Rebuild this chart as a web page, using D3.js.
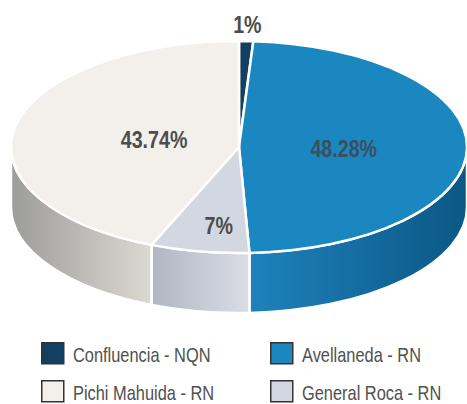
<!DOCTYPE html>
<html>
<head>
<meta charset="utf-8">
<script src="https://cdn.jsdelivr.net/npm/d3@7"></script>
<style>
  body { margin: 0; background: #fff; }
  svg { display: block; }
</style>
</head>
<body>
<div id="chart"></div>
<script>
// data, in pie order (clockwise from 12 o'clock)
const categories = ["Confluencia - NQN", "Avellaneda - RN", "General Roca - RN", "Pichi Mahuida - RN"];
const values = [1, 48.28, 7, 43.74];
const labels = ["1%", "48.28%", "7%", "43.74%"];
const legendOrder = [0, 1, 3, 2];

var width = 467, height = 404;
var cx = 239, cy = 147, rx = 228, ry = 106, depth = 60;
var narrow = 0.82; // no narrow font installed, squeeze Liberation Sans instead

var topColors = ["#123f62", "#1b87c1", "#d2d7e1", "#f3f0eb"];
// side wall gradient, left -> right
var sideColors = [["#0e3554", "#0b2f4b"], ["#1f82bc", "#0b5785"], ["#b1b6c3", "#dadde5"], ["#9c9c9a", "#dcd9d2"]];
var labelColors = ["#4d4d4d", "#3c4f5c", "#4d4d4d", "#4d4d4d"];

var svg = d3.select("#chart").append("svg")
    .attr("width", width)
    .attr("height", height);

var defs = svg.append("defs");

var pie = d3.pie().sort(null).value(d => d);
var arcs = pie(values);

function ellPt(a, dy) {
    return [cx + rx * Math.sin(a), cy - ry * Math.cos(a) + dy];
}

function sideRange(d) {
    var s = Math.max(d.startAngle, Math.PI / 2),
        e = Math.min(d.endAngle, 3 * Math.PI / 2);
    return e > s ? [s, e] : null;
}

function sidePath(r) {
    var s = r[0], e = r[1];
    var p0 = ellPt(s, 0), p1 = ellPt(e, 0), p2 = ellPt(e, depth), p3 = ellPt(s, depth);
    var large = (e - s) > Math.PI ? 1 : 0;
    return "M" + p0 + "A" + rx + "," + ry + " 0 " + large + " 1 " + p1 +
        "L" + p2 + "A" + rx + "," + ry + " 0 " + large + " 0 " + p3 + "Z";
}

// side walls
arcs.forEach(function (d, i) {
    var r = sideRange(d);
    if (!r) return;
    var xa = ellPt(r[0], 0)[0], xb = ellPt(r[1], 0)[0];
    var g = defs.append("linearGradient")
        .attr("id", "side" + i)
        .attr("gradientUnits", "userSpaceOnUse")
        .attr("x1", Math.min(xa, xb)).attr("x2", Math.max(xa, xb))
        .attr("y1", 0).attr("y2", 0);
    g.append("stop").attr("offset", 0).attr("stop-color", sideColors[i][0]);
    g.append("stop").attr("offset", 1).attr("stop-color", sideColors[i][1]);

    svg.append("path")
        .attr("d", sidePath(r))
        .attr("fill", "url(#side" + i + ")")
        .attr("stroke", "#fff")
        .attr("stroke-width", 2.5)
        .attr("stroke-linejoin", "round");
});

// top face: a circular pie squashed into an ellipse
var arc = d3.arc().innerRadius(0).outerRadius(rx);
var topFace = svg.append("g")
    .attr("transform", "translate(" + cx + "," + cy + ") scale(1," + (ry / rx) + ")");

topFace.selectAll("path")
    .data(arcs)
    .join("path")
    .attr("d", arc)
    .attr("fill", (d, i) => topColors[i])
    .attr("stroke", "#fff")
    .attr("stroke-width", 2.5)
    .attr("vector-effect", "non-scaling-stroke")
    .attr("stroke-linejoin", "round");

// labels: small slices outside, the rest inside (nudged right a bit like the original)
function labelPos(d) {
    var a = (d.startAngle + d.endAngle) / 2;
    var k = d.data < 2 ? 1.17 : d.data < 10 ? 0.74 : 0.42;
    var shift = d.data < 2 ? 0 : 9;
    return [cx + shift + k * rx * Math.sin(a), cy + 1 - k * ry * Math.cos(a)];
}

svg.selectAll("text.pct")
    .data(arcs)
    .join("text")
    .attr("class", "pct")
    .attr("transform", d => "translate(" + labelPos(d) + ") scale(" + narrow + ",1)")
    .attr("dy", "0.36em")
    .attr("text-anchor", "middle")
    .style("font-family", "'Liberation Sans', Arial, sans-serif")
    .style("font-weight", "bold")
    .style("font-size", "24px")
    .attr("fill", (d, i) => labelColors[i])
    .text((d, i) => labels[i]);

// legend
var legend = svg.append("g");
var item = legend.selectAll("g")
    .data(legendOrder)
    .join("g")
    .attr("transform", (d, k) => "translate(" + (k % 2 === 0 ? 41 : 270) + "," + (k < 2 ? 342 : 380) + ")");

item.append("rect")
    .attr("x", 0.75).attr("y", 0.75)
    .attr("width", 22).attr("height", 21)
    .attr("fill", d => topColors[d])
    .attr("stroke", "#333")
    .attr("stroke-width", 1.5);

item.append("text")
    .attr("transform", "translate(32,20) scale(" + narrow + ",1)")
    .style("font-family", "'Liberation Sans', Arial, sans-serif")
    .style("font-size", "20px")
    .attr("fill", "#505050")
    .text(d => categories[d]);
</script>
</body>
</html>
